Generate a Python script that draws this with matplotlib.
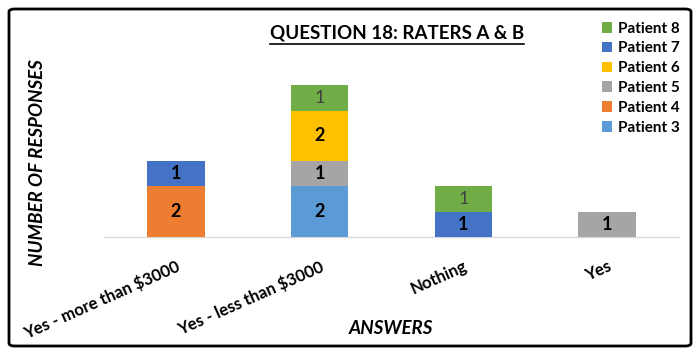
import matplotlib
matplotlib.use("Agg")
import matplotlib.pyplot as plt
from matplotlib.patches import FancyBboxPatch
from matplotlib.lines import Line2D
import numpy as np

plt.rcParams['font.family'] = ['Lato', 'DejaVu Sans']

categories = ["Yes - more than $3000", "Yes - less than $3000", "Nothing", "Yes"]
series_names = ["Patient 3", "Patient 4", "Patient 5", "Patient 6", "Patient 7", "Patient 8"]
patient3 = [0, 2, 0, 0]
patient4 = [2, 0, 0, 0]
patient5 = [0, 1, 0, 1]
patient6 = [0, 2, 0, 0]
patient7 = [1, 0, 1, 0]
patient8 = [0, 1, 1, 0]
series_values = [patient3, patient4, patient5, patient6, patient7, patient8]
colors = ["#5B9BD5", "#ED7D31", "#A5A5A5", "#FFC000", "#4472C4", "#70AD47"]

fig = plt.figure(figsize=(7, 3.55), dpi=100)
ax = fig.add_axes([104/700, 1-237/355, (679-104)/700, (237-60)/355])

x = np.arange(len(categories))
bottom = np.zeros(len(categories))
handles = []
for name, vals, col in zip(series_names, series_values, colors):
    vals = np.array(vals, dtype=float)
    bars = ax.bar(x, vals, 0.40, bottom=bottom, color=col, label=name, zorder=3)
    handles.append(bars)
    for xi, v, b in zip(x, vals, bottom):
        if v > 0:
            if name == "Patient 8":
                ax.text(xi, b + v/2, f"{int(v)}", ha='center', va='center',
                        fontsize=13, color='#404040', zorder=4)
            else:
                ax.text(xi, b + v/2, f"{int(v)}", ha='center', va='center',
                        fontsize=13, fontweight='bold', color='black', zorder=4)
    bottom += vals

ax.set_xlim(-0.5, len(categories) - 0.5)
ax.set_ylim(0, 7)
for s in ['top', 'right', 'left']:
    ax.spines[s].set_visible(False)
ax.spines['bottom'].set_color('#D9D9D9')
ax.spines['bottom'].set_linewidth(1)
ax.set_yticks([])
ax.set_xticks(x)
ax.set_xticklabels(categories, rotation=24, ha='right', rotation_mode='anchor',
                   fontsize=12, fontweight='bold')
ax.tick_params(axis='x', length=0, pad=15)

fig.text(38/700, 1-163/355, "NUMBER OF RESPONSES", rotation=90, ha='center', va='center',
         fontsize=13.5, fontweight='bold', fontstyle='italic')
fig.text(391/700, 1-328/355, "ANSWERS", ha='center', va='center',
         fontsize=13.5, fontweight='bold', fontstyle='italic')

title = fig.text(397/700, 1-33/355, "QUESTION 18: RATERS A & B", ha='center', va='center',
                 fontsize=13.5, fontweight='bold')

leg = fig.legend(handles[::-1], series_names[::-1], loc='upper left',
                 bbox_to_anchor=(594/700, 1-14/355), frameon=False,
                 prop={'weight': 'bold', 'size': 11}, handlelength=0.7, handleheight=0.7,
                 handletextpad=0.4, labelspacing=0.38, borderpad=0)

border = FancyBboxPatch((9/700, 9/355), (691-9)/700, (346-9)/355,
                        boxstyle="round,pad=0,rounding_size=0.008",
                        transform=fig.transFigure, fill=False, edgecolor='black',
                        linewidth=2, zorder=10)
fig.patches.append(border)

fig.canvas.draw()
bb = title.get_window_extent().transformed(fig.transFigure.inverted())
yline = bb.y0 - 2/355
fig.add_artist(Line2D([bb.x0, bb.x1], [yline, yline], transform=fig.transFigure,
                      color='black', linewidth=1.2))

fig.savefig("out.png", dpi=100)
